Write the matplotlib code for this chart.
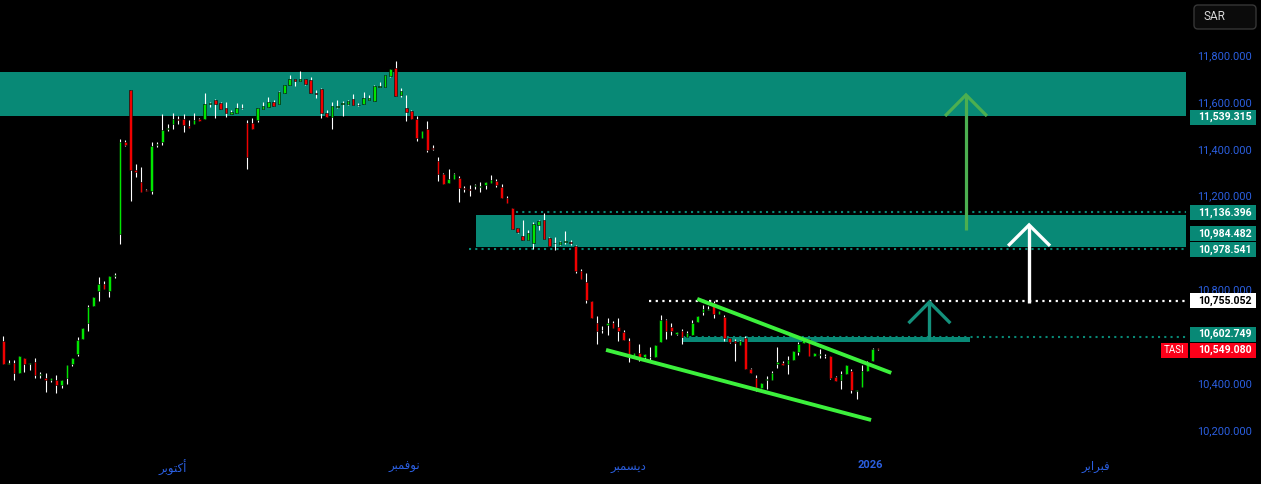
import matplotlib.pyplot as plt
import numpy as np
from matplotlib.patches import Rectangle, FancyBboxPatch
from matplotlib.transforms import IdentityTransform

plt.rcParams['font.family'] = ['Roboto', 'DejaVu Sans']

# TASI candles, oldest first
opens = [10584, 10486, 10490, 10448, 10511, 10486, 10494, 10439, 10426, 10418,
         10418, 10396, 10426, 10486, 10529, 10593, 10661, 10733, 10797, 10827,
         10797, 10861, 11041, 11433, 11655, 11314, 11262, 11228, 11224, 11420,
         11433, 11488, 11509, 11531, 11531, 11501, 11509, 11531, 11531, 11597,
         11612, 11599, 11578, 11552, 11557, 11576, 11514, 11514, 11527, 11574,
         11582, 11604, 11595, 11642, 11676, 11702, 11693, 11702, 11698, 11642,
         11659, 11557, 11539, 11582, 11597, 11595, 11616, 11591, 11595, 11612,
         11608, 11668, 11668, 11715, 11749, 11634, 11578, 11565, 11531, 11450,
         11488, 11407, 11352, 11297, 11258, 11275, 11279, 11233, 11233, 11245,
         11241, 11250, 11258, 11267, 11241, 11194, 11151, 11066, 11032, 11015,
         11002, 11079, 11100, 11023, 11002, 10998, 11008, 11004, 10989, 10883,
         10836, 10755, 10661, 10631, 10652, 10661, 10644, 10622, 10584, 10516,
         10533, 10516, 10516, 10516, 10580, 10674, 10644, 10614, 10627, 10601,
         10610, 10665, 10708, 10718, 10746, 10699, 10686, 10597, 10584, 10567,
         10597, 10465, 10426, 10384, 10418, 10418, 10486, 10490, 10486, 10503,
         10537, 10575, 10593, 10520, 10524, 10520, 10520, 10430, 10418, 10443,
         10456, 10371, 10388, 10456, 10499, 10552]
highs = [10605, 10503, 10503, 10520, 10511, 10490, 10511, 10452, 10448, 10426,
         10439, 10418, 10482, 10511, 10601, 10640, 10738, 10772, 10857, 10840,
         10861, 10874, 11446, 11442, 11655, 11339, 11326, 11232, 11433, 11433,
         11552, 11509, 11556, 11544, 11552, 11527, 11556, 11535, 11642, 11604,
         11616, 11604, 11604, 11570, 11599, 11595, 11527, 11535, 11578, 11604,
         11625, 11612, 11651, 11676, 11719, 11702, 11736, 11702, 11710, 11655,
         11663, 11570, 11604, 11612, 11608, 11612, 11638, 11599, 11646, 11634,
         11676, 11689, 11719, 11745, 11779, 11663, 11634, 11570, 11544, 11480,
         11523, 11420, 11369, 11301, 11318, 11301, 11288, 11245, 11250, 11254,
         11262, 11262, 11292, 11275, 11254, 11203, 11151, 11066, 11100, 11058,
         11092, 11100, 11130, 11028, 11028, 11011, 11053, 11015, 10994, 10891,
         10874, 10755, 10691, 10648, 10682, 10669, 10682, 10631, 10597, 10533,
         10571, 10529, 10558, 10567, 10695, 10678, 10661, 10622, 10635, 10627,
         10674, 10691, 10738, 10733, 10755, 10712, 10695, 10597, 10593, 10588,
         10605, 10469, 10439, 10405, 10435, 10456, 10558, 10499, 10520, 10541,
         10580, 10593, 10593, 10533, 10550, 10529, 10520, 10435, 10456, 10482,
         10465, 10375, 10482, 10499, 10554, 10554]
lows = [10486, 10486, 10418, 10448, 10452, 10460, 10426, 10426, 10366, 10409,
        10361, 10384, 10401, 10477, 10520, 10593, 10627, 10733, 10755, 10806,
        10772, 10853, 10998, 11416, 11181, 11284, 11219, 11224, 11211, 11412,
        11420, 11480, 11488, 11509, 11476, 11493, 11509, 11522, 11531, 11582,
        11535, 11574, 11539, 11552, 11557, 11574, 11318, 11488, 11518, 11574,
        11582, 11587, 11595, 11642, 11676, 11672, 11693, 11676, 11642, 11621,
        11535, 11539, 11488, 11578, 11544, 11591, 11591, 11587, 11595, 11612,
        11608, 11668, 11668, 11710, 11629, 11625, 11522, 11531, 11437, 11450,
        11390, 11399, 11267, 11254, 11258, 11275, 11177, 11219, 11203, 11233,
        11219, 11233, 11258, 11241, 11194, 11172, 11062, 11045, 11015, 11015,
        10977, 11058, 11019, 10989, 10972, 10994, 10998, 10994, 10874, 10849,
        10746, 10682, 10571, 10618, 10610, 10640, 10584, 10588, 10494, 10516,
        10499, 10499, 10499, 10516, 10580, 10592, 10610, 10610, 10571, 10601,
        10610, 10665, 10695, 10716, 10682, 10699, 10584, 10575, 10499, 10567,
        10465, 10448, 10371, 10384, 10379, 10418, 10469, 10482, 10443, 10503,
        10524, 10575, 10520, 10520, 10511, 10511, 10422, 10413, 10379, 10443,
        10361, 10336, 10388, 10456, 10499, 10546]
closes = [10486, 10490, 10448, 10520, 10486, 10490, 10439, 10443, 10418, 10426,
          10396, 10418, 10482, 10511, 10588, 10640, 10729, 10772, 10827, 10806,
          10861, 10866, 11433, 11420, 11314, 11305, 11219, 11226, 11416, 11425,
          11484, 11493, 11531, 11527, 11506, 11493, 11527, 11522, 11595, 11599,
          11595, 11574, 11557, 11561, 11578, 11578, 11369, 11488, 11578, 11587,
          11604, 11587, 11646, 11676, 11702, 11693, 11702, 11681, 11642, 11638,
          11557, 11539, 11587, 11587, 11599, 11608, 11591, 11589, 11621, 11621,
          11672, 11672, 11719, 11745, 11629, 11651, 11561, 11531, 11450, 11480,
          11399, 11405, 11297, 11254, 11275, 11297, 11237, 11232, 11228, 11247,
          11243, 11262, 11271, 11250, 11194, 11172, 11062, 11049, 11015, 11045,
          11083, 11096, 11019, 10989, 11000, 11006, 11010, 11002, 10883, 10849,
          10759, 10682, 10627, 10629, 10661, 10640, 10627, 10588, 10516, 10533,
          10516, 10529, 10514, 10567, 10674, 10627, 10627, 10622, 10601, 10618,
          10661, 10691, 10721, 10720, 10699, 10712, 10597, 10580, 10575, 10584,
          10465, 10448, 10384, 10405, 10422, 10448, 10494, 10482, 10503, 10541,
          10571, 10593, 10520, 10533, 10529, 10518, 10426, 10413, 10443, 10482,
          10375, 10373, 10456, 10486, 10550, 10549.08]

# month labels (Arabic, written in visual order with presentation forms)
month_pos = [32, 75.6, 117.9, 163.5, 206]
month_labels = ['\ufeae\ufe91\ufeee\ufe98\ufedb\ufe83',   # October
                '\ufeae\ufe92\ufee4\ufed3\ufeee\ufee7',   # November
                '\ufeae\ufe92\ufee4\ufeb4\ufef3\ufea9',   # December
                '2026',
                '\ufeae\ufef3\ufe8d\ufeae\ufe92\ufed3']   # February

# 11,000 and 10,600 sit under the level labels, so they are not drawn
price_ticks = [11800, 11600, 11400, 11200, 10800, 10400, 10200]

# drawn zones / levels
top_zone = (11544, 11732)
mid_zone = (10984.482, 11122)
level_hi = 11136.396
level_lo = 10978.541
level_white = 10755.052
level_break = 10602.749
last_price = 10549.08

teal = '#088976'
blue = '#2b5fe0'
lime = '#3cf03c'

fig = plt.figure(figsize=(12.61, 4.84), dpi=100, facecolor='black')
ax = fig.add_axes([0, 32 / 484, 1186 / 1261, 452 / 484])
ax.set_facecolor('black')
xmin, xmax = -0.62, 223.1
ax.set_xlim(xmin, xmax)
ax.set_ylim(10110.4, 12038.9)
for s in ax.spines.values():
    s.set_visible(False)
ax.set_yticks([])

# zones
ax.add_patch(Rectangle((xmin, top_zone[0]), xmax - xmin, top_zone[1] - top_zone[0],
                       facecolor=teal, lw=0, zorder=1))
ax.add_patch(Rectangle((89.2, mid_zone[0]), xmax - 89.2, mid_zone[1] - mid_zone[0],
                       facecolor=teal, lw=0, zorder=1))
dots = (0, (1, 2))
ax.hlines(level_hi, 96.7, xmax, colors=teal, linestyles=dots, lw=1.5, zorder=1)
ax.hlines(level_lo, 87.9, xmax, colors=teal, linestyles=dots, lw=1.5, zorder=1)
ax.hlines(level_white, 121.8, xmax, colors='white', linestyles=dots, lw=1.6, zorder=1)
ax.hlines(level_break, 128.2, xmax, colors=teal, linestyles=dots, lw=1.5, zorder=1)
ax.add_patch(Rectangle((128.2, 10580), 182.4 - 128.2, level_break - 10580,
                       facecolor=teal, lw=0, zorder=1))

# candles
o = np.array(opens)
h = np.array(highs)
l = np.array(lows)
c = np.array(closes)
idx = np.arange(len(o))
up = c >= o
cols = np.where(up, '#00e600', '#f00000')
ax.vlines(idx, l, h, color='white', lw=0.8, zorder=3)
bottom = np.minimum(o, c)
height = np.maximum(np.abs(c - o), 3)
ax.bar(idx, height, 0.5, bottom, color=cols, edgecolor='black', lw=0.4, zorder=4)

# wedge trendlines
ax.plot([130.9, 167.5], [10763.5, 10448], color=lime, lw=2.8, solid_capstyle='butt', zorder=5)
ax.plot([113.7, 163.7], [10546, 10247], color=lime, lw=2.8, solid_capstyle='butt', zorder=5)

# target arrows
def arrow(x, y0, y1, yarm, dx, color, lw):
    ax.plot([x, x], [y0, y1], color=color, lw=lw, zorder=6, solid_capstyle='butt')
    ax.plot([x - dx, x, x + dx], [yarm, y1, yarm], color=color, lw=lw, zorder=6,
            solid_joinstyle='miter', solid_capstyle='butt')

arrow(181.6, 11058, 11634, 11544, 3.95, '#4caf50', 2.3)
arrow(193.5, 10746, 11079, 10990, 3.95, 'white', 2.4)
arrow(174.7, 10588, 10750, 10660, 3.95, '#14917c', 2.4)

# time axis
ax.set_xticks(month_pos, month_labels)
ax.tick_params(axis='x', length=0, pad=6, colors=blue, labelsize=8.5)
for t in ax.get_xticklabels():
    if t.get_text() == '2026':
        t.set_fontweight('bold')
        t.set_fontsize(8)

# price scale
def ypix(v):
    return ax.transData.transform((0, v))[1]

for p in price_ticks:
    fig.text(1225 / 1261, ypix(p) / 484, f'{p:,.3f}', color=blue, fontsize=7.9,
             ha='center', va='center', zorder=1)

labels = [(11539.315, 0, teal, 'white'),
          (level_hi, -1, teal, 'white'),
          (10984.482, 13.5, teal, 'white'),
          (level_lo, -1, teal, 'white'),
          (level_white, 0, 'white', 'black'),
          (level_break, 2.5, teal, 'white'),
          (last_price, -1, '#fb0019', 'white')]
for v, off, face, tc in labels:
    y = ypix(v) + off
    fig.add_artist(Rectangle((1190, y - 7.5), 66, 15, transform=IdentityTransform(),
                             facecolor=face, lw=0, zorder=5))
    fig.text(1224.5 / 1261, y / 484, f'{v:,.3f}', color=tc, fontsize=7.6,
             fontweight='bold', ha='center', va='center', zorder=6)

y = ypix(last_price) - 1
fig.add_artist(Rectangle((1161, y - 7.5), 27, 15, transform=IdentityTransform(),
                         facecolor='#fb0019', lw=0, zorder=5))
fig.text(1174.5 / 1261, y / 484, 'TASI', color='white', fontsize=7, ha='center',
         va='center', zorder=6)

# currency button
fig.add_artist(FancyBboxPatch((1194, 484 - 29), 62, 24, boxstyle='round,pad=0,rounding_size=4',
                              transform=IdentityTransform(), facecolor='#0b0b0b',
                              edgecolor='#363636', lw=1, zorder=5))
fig.text(1203 / 1261, (484 - 17) / 484, 'SAR', color='#d8d8d8', fontsize=8.5,
         ha='left', va='center', zorder=6)

plt.savefig('out.png', dpi=100, facecolor='black')
